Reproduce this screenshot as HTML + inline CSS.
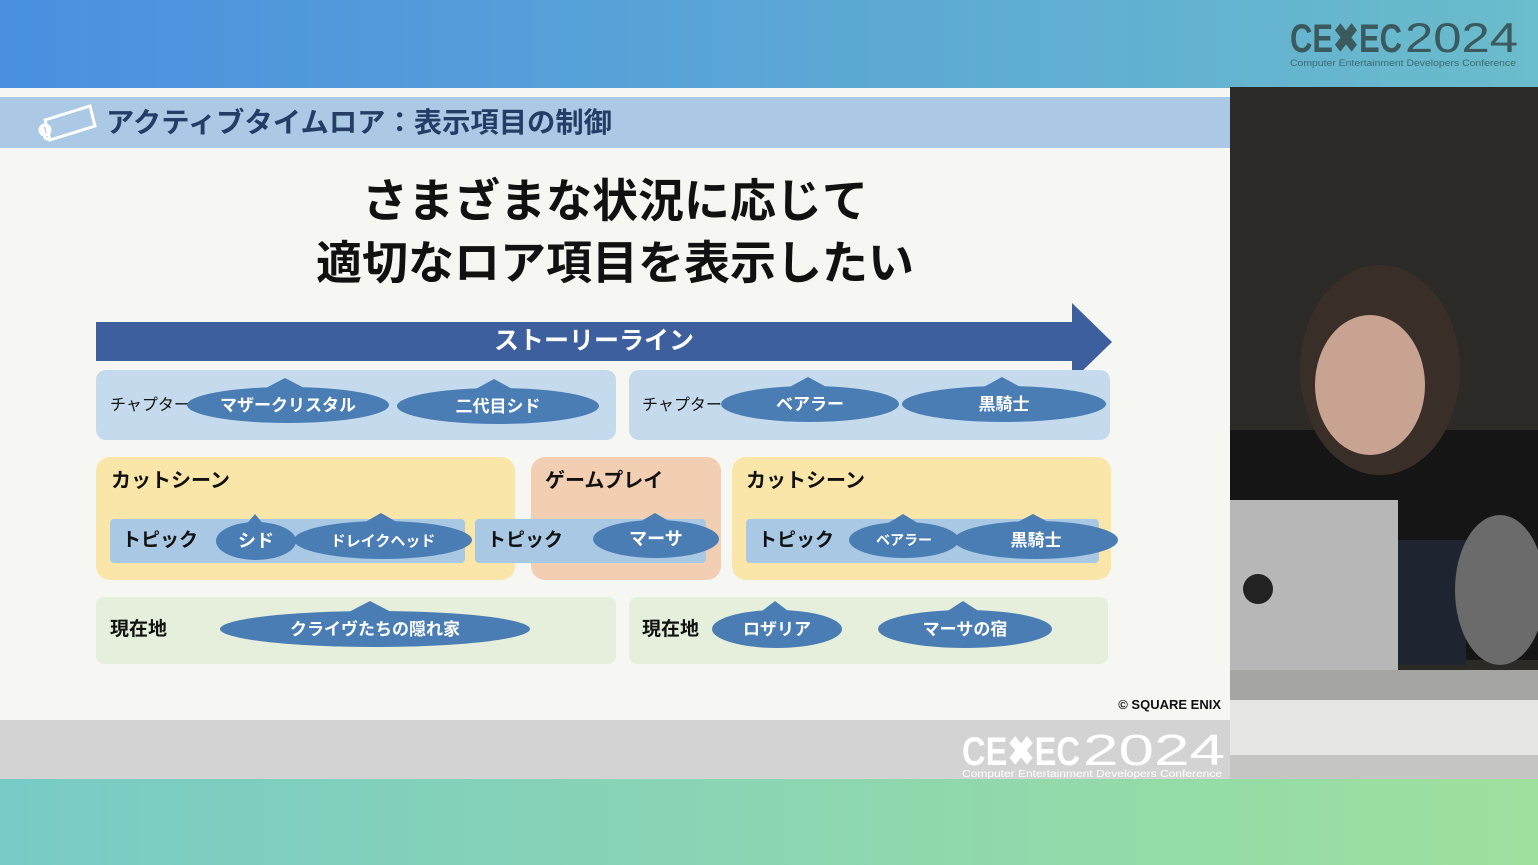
<!DOCTYPE html>
<html><head><meta charset="utf-8"><style>
html,body{margin:0;padding:0;width:1538px;height:865px;overflow:hidden;background:#fff}
svg{display:block}
text{font-family:"Liberation Sans","Noto Sans CJK JP",sans-serif;font-weight:bold}
</style></head><body>
<svg width="1538" height="865" viewBox="0 0 1538 865" xmlns="http://www.w3.org/2000/svg">
<defs>
<linearGradient id="top" x1="0" x2="1"><stop offset="0" stop-color="#4a8fe0"/><stop offset="1" stop-color="#6bbccc"/></linearGradient>
<linearGradient id="bot" x1="0" x2="1"><stop offset="0" stop-color="#78cbc6"/><stop offset="1" stop-color="#9ee09e"/></linearGradient>
</defs>
<rect width="1538" height="88" fill="url(#top)"/>
<rect y="779" width="1538" height="86" fill="url(#bot)"/>
<!-- CEDEC top logo -->
<text x="1290" y="52" font-size="40" fill="#3a5a5e" style="font-weight:900" textLength="112" lengthAdjust="spacingAndGlyphs">CE✖EC</text>
<text x="1405" y="52" font-size="42" fill="#3a5a5e" style="font-weight:normal" textLength="113" lengthAdjust="spacingAndGlyphs">2024</text>
<text x="1290" y="66" font-size="9" fill="#3a6a70" style="font-weight:normal" textLength="226" lengthAdjust="spacingAndGlyphs">Computer Entertainment Developers Conference</text>

<!-- slide -->
<rect x="0" y="88" width="1230" height="691" fill="#f6f7f2"/>
<rect x="0" y="97" width="1230" height="51" fill="#abc9e5"/>
<g fill="none" stroke="#fff" stroke-width="3"><path d="M45 120 L90 106 L95 126 L50 140 Z"/><path d="M42 125 L45 138 L50 140"/><circle cx="45" cy="130" r="5"/></g>
<text x="106" y="132" font-size="28" fill="#233d66" textLength="506" lengthAdjust="spacingAndGlyphs">アクティブタイムロア：表示項目の制御</text>
<text x="615" y="217" font-size="46" fill="#111" text-anchor="middle">さまざまな状況に応じて</text>
<text x="615" y="279" font-size="46" fill="#111" text-anchor="middle">適切なロア項目を表示したい</text>

<!-- arrow -->
<rect x="96" y="322" width="978" height="39" fill="#3d5f9e"/>
<path d="M1072 303 L1112 342 L1072 381 Z" fill="#3d5f9e"/>
<text x="594" y="349" font-size="25" fill="#fff" text-anchor="middle">ストーリーライン</text>

<!-- chapter -->
<rect x="96" y="370" width="520" height="70" rx="10" fill="#c5dbed"/>
<rect x="629" y="370" width="481" height="70" rx="10" fill="#c5dbed"/>
<g font-size="16" fill="#111"><text x="110" y="410" style="font-weight:normal">チャプター</text><text x="642" y="410" style="font-weight:normal">チャプター</text></g>

<!-- scenes -->
<rect x="96" y="457" width="419" height="123" rx="14" fill="#fae6a8"/>
<rect x="531" y="457" width="190" height="123" rx="14" fill="#f2cfb3"/>
<rect x="732" y="457" width="379" height="123" rx="14" fill="#fae6a8"/>
<g font-size="20" fill="#111"><text x="111" y="487">カットシーン</text><text x="545" y="487">ゲームプレイ</text><text x="746" y="487">カットシーン</text></g>
<rect x="110" y="519" width="355" height="44" rx="4" fill="#a9c8e4"/>
<rect x="475" y="519" width="231" height="44" rx="4" fill="#a9c8e4"/>
<rect x="746" y="519" width="353" height="44" rx="4" fill="#a9c8e4"/>
<g font-size="19" fill="#111"><text x="122" y="546">トピック</text><text x="487" y="546">トピック</text><text x="758" y="546">トピック</text></g>

<!-- location -->
<rect x="96" y="597" width="520" height="67" rx="8" fill="#e5efdb"/>
<rect x="629" y="597" width="479" height="67" rx="8" fill="#e5efdb"/>
<g font-size="19" fill="#111"><text x="110" y="635">現在地</text><text x="642" y="635">現在地</text></g>

<!-- bubbles -->
<g fill="#4a7db4">
<ellipse cx="288" cy="405" rx="101" ry="18"/><path d="M262 390 L285 378 L308 390Z"/>
<ellipse cx="498" cy="406" rx="101" ry="18"/><path d="M472 391 L494 379 L516 391Z"/>
<ellipse cx="810" cy="404" rx="89" ry="18"/><path d="M786 389 L808 377 L830 389Z"/>
<ellipse cx="1004" cy="404" rx="102" ry="18"/><path d="M980 389 L1002 377 L1024 389Z"/>
<ellipse cx="256" cy="541" rx="40" ry="19"/><path d="M245 526 L255 514 L265 526Z"/>
<ellipse cx="383" cy="540" rx="89" ry="19"/><path d="M360 525 L381 513 L402 525Z"/>
<ellipse cx="656" cy="539" rx="63" ry="19"/><path d="M636 524 L655 513 L674 524Z"/>
<ellipse cx="904" cy="540" rx="55" ry="18"/><path d="M885 525 L903 514 L921 525Z"/>
<ellipse cx="1036" cy="540" rx="82" ry="19"/><path d="M1012 525 L1033 514 L1054 525Z"/>
<ellipse cx="375" cy="629" rx="155" ry="18"/><path d="M345 614 L370 601 L395 614Z"/>
<ellipse cx="777" cy="629" rx="65" ry="19"/><path d="M758 614 L775 601 L792 614Z"/>
<ellipse cx="965" cy="629" rx="87" ry="19"/><path d="M943 614 L963 601 L983 614Z"/>
</g>
<g fill="#fff" text-anchor="middle" font-size="17">
<text x="288" y="411">マザークリスタル</text>
<text x="498" y="412">二代目シド</text>
<text x="810" y="410">ベアラー</text>
<text x="1004" y="410">黒騎士</text>
<text x="256" y="547" font-size="18">シド</text>
<text x="383" y="546" font-size="15">ドレイクヘッド</text>
<text x="656" y="545" font-size="18">マーサ</text>
<text x="904" y="545" font-size="14">ベアラー</text>
<text x="1036" y="546">黒騎士</text>
<text x="375" y="635">クライヴたちの隠れ家</text>
<text x="777" y="635">ロザリア</text>
<text x="965" y="635">マーサの宿</text>
</g>
<text x="1221" y="709" font-size="13" fill="#111" text-anchor="end">© SQUARE ENIX</text>
<rect x="0" y="720" width="1230" height="59" fill="#d3d3d3"/>
<text x="962" y="765" font-size="40" fill="#fff" style="font-weight:900" textLength="118" lengthAdjust="spacingAndGlyphs">CE✖EC</text>
<text x="1083" y="765" font-size="44" fill="#fff" style="font-weight:normal" textLength="142" lengthAdjust="spacingAndGlyphs">2024</text>
<text x="962" y="777" font-size="10" fill="#fff" style="font-weight:normal" textLength="260" lengthAdjust="spacingAndGlyphs">Computer Entertainment Developers Conference</text>

<!-- photo -->
<rect x="1230" y="87" width="308" height="692" fill="#2b2a27"/>
<rect x="1230" y="430" width="308" height="230" fill="#151515"/>
<ellipse cx="1380" cy="370" rx="80" ry="105" fill="#3a2e28"/>
<ellipse cx="1370" cy="385" rx="55" ry="70" fill="#c9a392"/>
<rect x="1230" y="500" width="168" height="172" fill="#b7b7b7"/>
<circle cx="1258" cy="589" r="15" fill="#222"/>
<rect x="1398" y="540" width="68" height="125" fill="#1e2530"/>
<ellipse cx="1500" cy="590" rx="45" ry="75" fill="#6b6b6b"/>
<rect x="1230" y="670" width="308" height="30" fill="#a5a5a3"/>
<rect x="1230" y="700" width="308" height="79" fill="#e6e6e4"/>
<rect x="1230" y="755" width="308" height="24" fill="#c5c5c3"/>
</svg>
</body></html>
